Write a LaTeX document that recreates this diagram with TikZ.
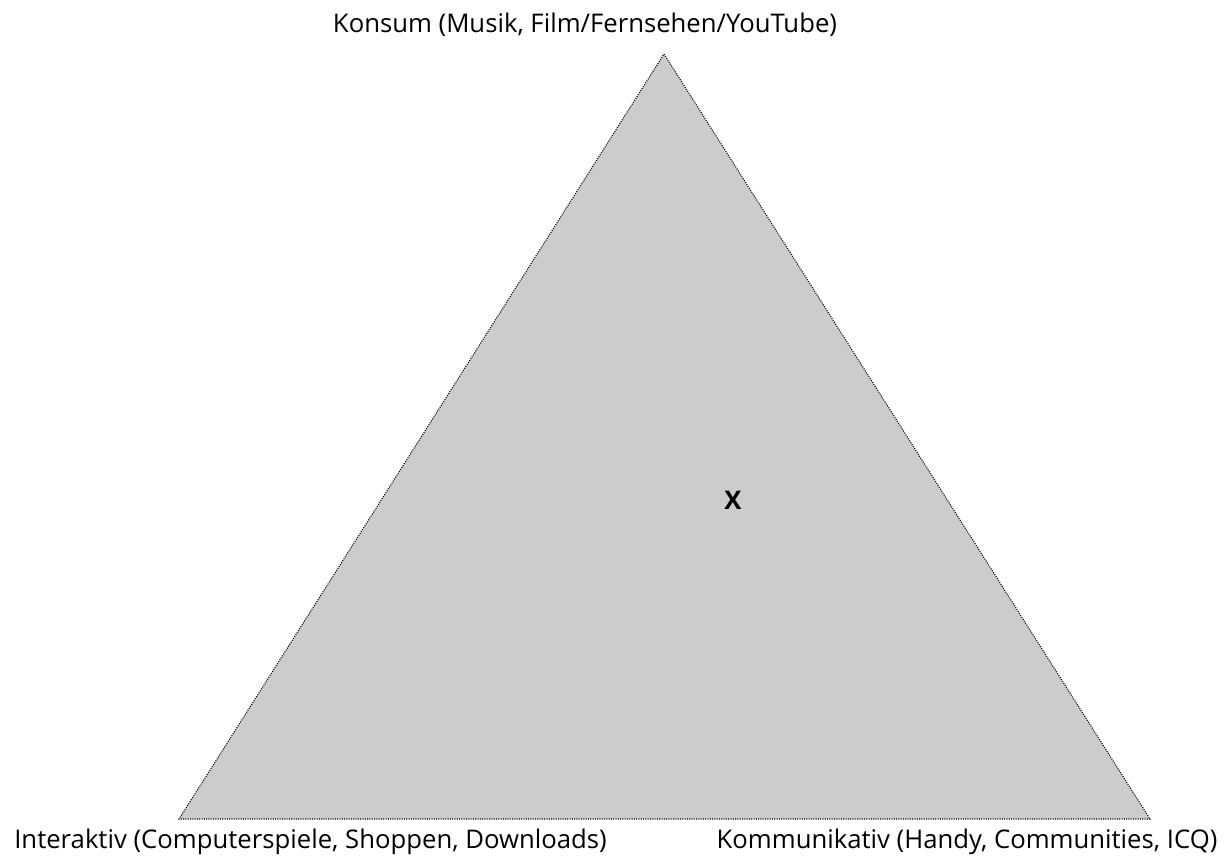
\documentclass[tikz,border=0pt]{standalone}
\usepackage{fontspec}
\setmainfont{Open Sans}
\begin{document}
\begin{tikzpicture}[x=1pt,y=-1pt,
  lbl/.style={anchor=base,inner sep=0pt,font=\fontsize{25.7}{30}\selectfont},
  tri/.style={fill={rgb,255:red,204;green,204;blue,204},draw=black,line width=1.1pt,dash pattern=on 1pt off 1.3pt}]
\useasboundingbox (0,0) rectangle (1229,857);
\coordinate (top) at (664,54);
\coordinate (bl) at (179,819);
\coordinate (br) at (1150,819);
\draw[tri] (top) -- (br) -- (bl) -- cycle;
\node[lbl] (konsum) at (585,32) {Konsum (Musik, Film/Fernsehen/YouTube)};
\node[lbl] (inter) at (310.5,848) {Interaktiv (Computerspiele, Shoppen, Downloads)};
\node[lbl] (komm) at (967,848) {Kommunikativ (Handy, Communities, ICQ)};
\node[lbl,font=\fontsize{25.7}{30}\selectfont\bfseries] (x) at (733,509) {X};
\end{tikzpicture}
\end{document}
